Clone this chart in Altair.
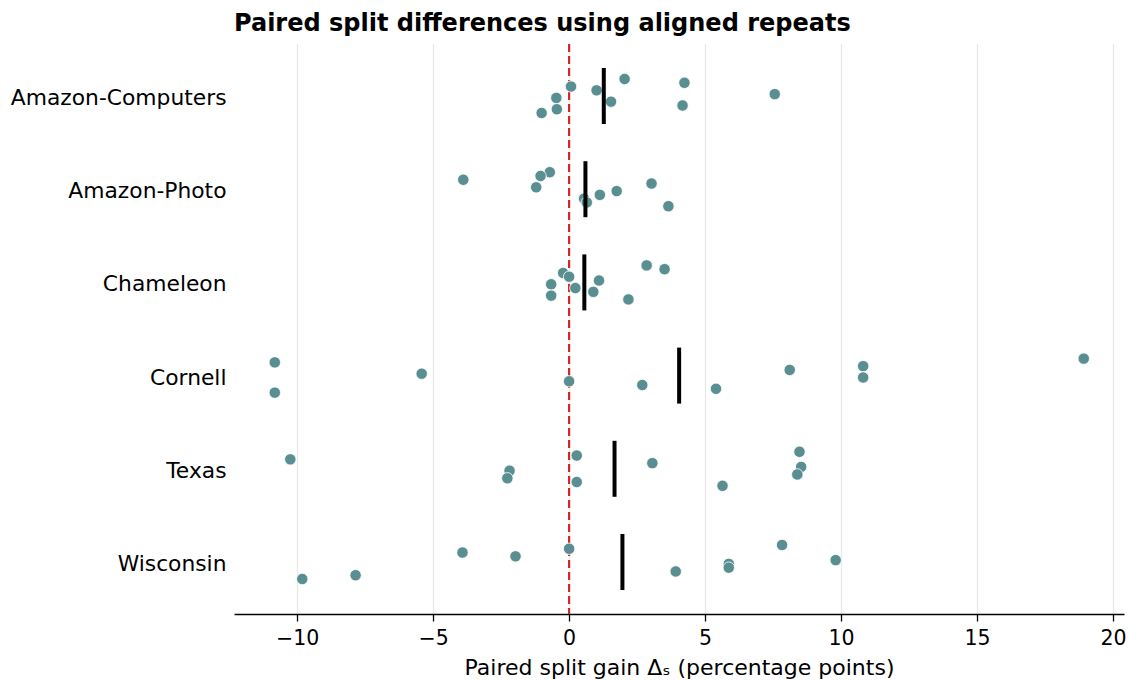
import altair as alt
import pandas as pd

datasets = ["Amazon-Computers", "Amazon-Photo", "Chameleon", "Cornell", "Texas", "Wisconsin"]

# paired split gain per repeat (percentage points), repeats 0..9 ordered top to bottom
amazon_computers = [2.04, 4.24, 0.07, 1.01, 7.56, -0.47, 1.54, 4.17, -0.45, -1.01]
amazon_photo = [-0.71, -1.05, -3.89, 3.03, -1.21, 1.75, 1.13, 0.55, 0.65, 3.65]
chameleon = [2.85, 3.51, -0.22, 0.00, 1.10, -0.66, 0.23, 0.89, -0.66, 2.18]
cornell = [18.92, -10.82, 10.81, 8.11, -5.42, 10.81, 0.00, 2.69, 5.40, -10.82]
texas = [8.47, 0.28, -10.25, 3.06, 8.53, -2.19, 8.39, -2.27, 0.28, 5.64]
wisconsin = [7.83, 0.00, -3.92, -1.97, 9.80, 5.87, 5.87, 3.92, -7.85, -9.81]

series = [amazon_computers, amazon_photo, chameleon, cornell, texas, wisconsin]
rows = []
for name, vals in zip(datasets, series):
    for i, v in enumerate(vals):
        rows.append({"dataset": name, "repeat": i, "gain": v})
df = pd.DataFrame(rows)

FONT = "DejaVu Sans"
x_scale = alt.Scale(domain=[-12.32, 20.4], nice=False, zero=False)
y_scale = alt.Scale(domain=datasets, paddingInner=0, paddingOuter=0.058)

x_axis = alt.Axis(
    title="Paired split gain Δₛ (percentage points)",
    values=[-10, -5, 0, 5, 10, 15, 20],
    grid=True, gridColor="#e8e8e8", gridWidth=1.3,
    domain=True, domainColor="black", domainWidth=1.5,
    ticks=True, tickColor="black", tickSize=7, tickWidth=1.3,
    labelFont=FONT, labelFontSize=20.5, labelColor="black", labelPadding=7,
    titleFont=FONT, titleFontSize=22, titleFontWeight="normal", titleColor="black", titlePadding=9,
    labelFlush=False,
)
y_axis = alt.Axis(
    title=None, domain=False, ticks=False, grid=False,
    labelFont=FONT, labelFontSize=21.8, labelColor="black", labelPadding=8,
    labelLimit=400, labelOffset=2,
)

zero = alt.Chart(pd.DataFrame({"z": [0]})).mark_rule(
    color="#d62728", strokeWidth=2.2, strokeDash=[8, 4]
).encode(x=alt.X("z:Q", scale=x_scale, axis=x_axis))

points = alt.Chart(df).mark_circle(
    size=130, opacity=1, color="#5a8f91", stroke="white", strokeWidth=0.8
).encode(
    x=alt.X("gain:Q", scale=x_scale, axis=x_axis),
    y=alt.Y("dataset:N", sort=datasets, scale=y_scale, axis=y_axis),
    yOffset=alt.YOffset("repeat:Q", scale=alt.Scale(domain=[0, 9], range=[29.6, 63.6])),
)

medians = alt.Chart(df).mark_tick(color="black", thickness=4, size=56).encode(
    x=alt.X("median(gain):Q", scale=x_scale, axis=x_axis),
    y=alt.Y("dataset:N", sort=datasets, scale=y_scale, axis=y_axis),
)

chart = alt.layer(zero, points, medians).properties(
    width=890, height=570,
    title=alt.TitleParams(
        "Paired split differences using aligned repeats",
        anchor="start", frame="group", font=FONT, fontSize=24, fontWeight="bold",
        color="black", offset=7,
    ),
    autosize=alt.AutoSizeParams(type="none"),
    padding={"left": 234, "top": 44, "right": 5, "bottom": 67},
    background="white",
).configure_view(stroke=None)

chart.save("out.html", embed_options={"renderer": "svg", "actions": False})
